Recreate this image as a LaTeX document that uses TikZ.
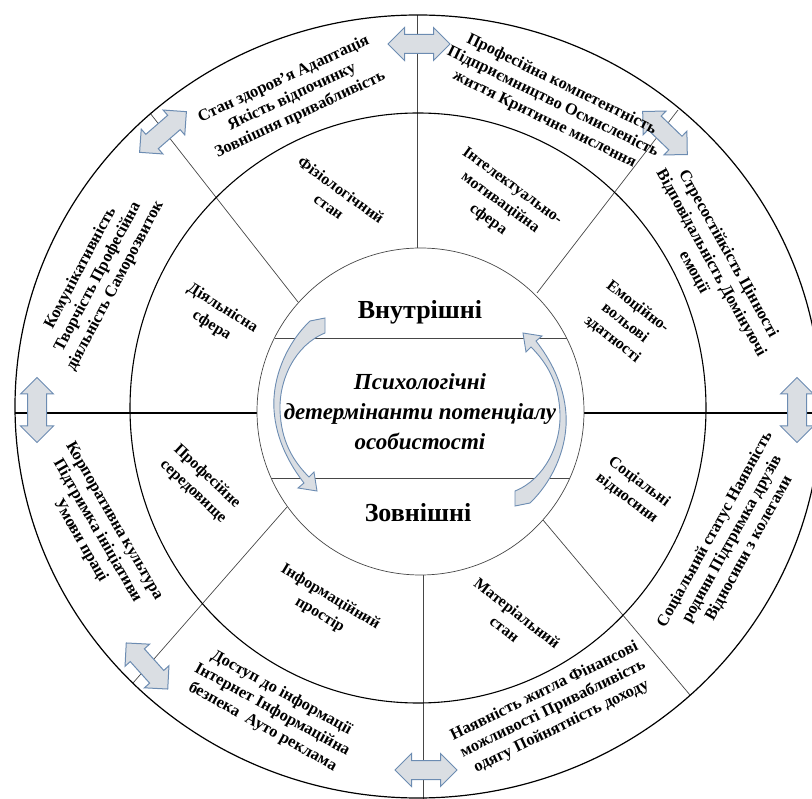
\documentclass[tikz,border=0pt]{standalone}
\usepackage{fontspec}
\setmainfont{Liberation Serif}
\usetikzlibrary{shapes.arrows}

\definecolor{arrfill}{RGB}{218,222,227}
\definecolor{arrline}{RGB}{108,140,178}
\definecolor{radline}{RGB}{70,70,70}

\tikzset{
  dblarr/.style={double arrow, draw=arrline, fill=arrfill, line width=1pt,
    minimum height=62pt, inner xsep=0pt, inner ysep=9pt,
    double arrow head extend=7pt},
  ringtxt/.style={font=\bfseries\fontsize{16.5}{19.5}\selectfont, align=center, inner sep=0pt},
  secttxt/.style={font=\bfseries\fontsize{16}{20.5}\selectfont, align=center, inner sep=0pt},
  radial/.style={radline, line width=0.7pt},
  turnarr/.pic={
    \filldraw[draw=arrline, fill=arrfill, line width=0.9pt]
      (-110,-91) .. controls (-135,-67) and (-148,-32) .. (-146,-2)
      .. controls (-144,28) and (-130,53) .. (-116,71)
      -- (-122,76) -- (-103,79) -- (-106,60) -- (-111,65)
      .. controls (-128,48) and (-139,28) .. (-140,-2)
      .. controls (-141,-32) and (-125,-67) .. (-95,-79)
      -- (-95,-94) -- cycle;
  }
}

\begin{document}
\begin{tikzpicture}[x=1pt, y=-1pt]
\clip (0,0) rectangle (812,799);

% radial lines
\draw[radial] (417,248) -- (417,15);
\draw[radial] (298,302) -- (150,113);
\draw[radial] (537,293) -- (678,110);
\draw[radial] (287,507) -- (133,683);
\draw[radial] (543,520) -- (690,695);
\draw[radial] (423,575) -- (423,799);

% thick divider
\draw[line width=2.6pt] (15,413) -- (257,413);
\draw[line width=2.6pt] (584,413) -- (812,413);

% rings
\draw[line width=1.2pt] (418,406.5) ellipse [x radius=403pt, y radius=391.5pt];
\draw[line width=1.1pt] (418,408) ellipse [x radius=288pt, y radius=295pt];
\draw[radial] (420.5,411.5) circle [radius=163.5pt];
\draw[radial] (274.5,338) -- (566.5,338);
\draw[radial] (271,478) -- (570,478);

% block arrows on the outer ring
\node[dblarr] (arrtop) at (419,44) {};
\node[dblarr, rotate=41] (arrtl) at (163,132) {};
\node[dblarr, rotate=-44] (arrtr) at (665,133) {};
\node[dblarr, rotate=90, minimum height=65pt] (arrl) at (37,410) {};
\node[dblarr, rotate=90, minimum height=65pt] (arrr) at (797,410) {};
\node[dblarr, rotate=-48] (arrbl) at (147,666) {};
\node[dblarr] (arrbot) at (426,770) {};

% curved arrows in the centre
\pic at (420,412) {turnarr};
\pic[rotate=180] at (420,412) {turnarr};

% centre
\node[font=\bfseries\fontsize{26}{30}\selectfont] (vnutr) at (420,312) {Внутрішні};
\node[font=\bfseries\fontsize{26}{30}\selectfont] (zovn) at (418,513) {Зовнішні};
\node[font=\bfseries\itshape\fontsize{23}{30}\selectfont, align=center] (core) at (420,412)
  {Психологічні\\детермінанти потенціалу\\особистості};

% middle ring
\node[secttxt, rotate=-36] (fiz) at (335,198) {Фізіологічний\\стан};
\node[secttxt, rotate=-36] (intel) at (500,203) {Інтелектуально-\\мотиваційна\\сфера};
\node[secttxt, rotate=-38] (emoc) at (625,323) {Емоційно-\\вольові\\здатності};
\node[secttxt, rotate=-32] (diyal) at (217,317) {Діяльнісна\\сфера};
\node[secttxt, rotate=-43] (profser) at (200,484) {Професійне\\середовище};
\node[secttxt, rotate=-31] (inform) at (325,606) {Інформаційний\\простір};
\node[secttxt, rotate=-38] (mater) at (511,621) {Матеріальний\\стан};
\node[secttxt, rotate=-37] (socvid) at (633,490) {Соціальні\\відносини};

% outer ring
\node[ringtxt, rotate=25] (zdorov) at (292,97) {Стан здоров’я Адаптація\\Якість відпочинку\\Зовнішня привабливість};
\node[ringtxt, rotate=-26] (kompet) at (553,102) {Професійна компетентність\\Підприємництво Осмисленість\\життя Критичне мислення};
\node[ringtxt, rotate=-61] (stres) at (711,263) {Стресостійкість Цінності\\Відповідальність Домінуючі\\емоції};
\node[ringtxt, rotate=62] (komun) at (98,277) {Комунікативність\\Творчість Професійна\\діяльність Саморозвиток};
\node[ringtxt, rotate=-60] (korpor) at (97,531) {Корпоративна культура\\Підтримка ініціативи\\Умови праці};
\node[ringtxt, rotate=-29] (dostup) at (272,710) {Доступ до інформації\\Інтернет Інформаційна\\безпека\enspace Ауто реклама};
\node[ringtxt, rotate=26] (zhytlo) at (553,709) {Наявність житла Фінансові\\можливості Привабливість\\одягу Пойнятність доходу};
\node[ringtxt, rotate=61] (status) at (732,539) {Соціальний статус Наявність\\родини Підтримка друзів\\Відносини з колегами};

\end{tikzpicture}
\end{document}
